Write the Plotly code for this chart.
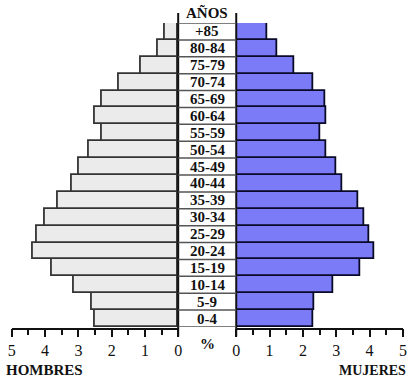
import plotly.graph_objects as go

W, H = 415, 381

age_groups = ["0-4", "5-9", "10-14", "15-19", "20-24", "25-29", "30-34", "35-39",
              "40-44", "45-49", "50-54", "55-59", "60-64", "65-69", "70-74", "75-79",
              "80-84", "+85"]
hombres = [2.50, 2.61, 3.14, 3.81, 4.36, 4.25, 4.00, 3.61, 3.21, 2.99, 2.68, 2.29,
           2.50, 2.29, 1.79, 1.11, 0.62, 0.39]
mujeres = [2.30, 2.35, 2.92, 3.72, 4.13, 4.00, 3.85, 3.66, 3.19, 2.99, 2.70, 2.51,
           2.70, 2.66, 2.30, 1.74, 1.24, 0.93]
ticks = [0, 1, 2, 3, 4, 5]

n = len(age_groups)

def px_x(p):
    return p / W

def px_y(p):
    return (H - p) / H

# layout geometry in pixels
left_x0, left_x1 = 8.0, 177.6
right_x0, right_x1 = 236.8, 406.8
top_y, bot_y = 23.0, 327.0
axis_y = 328.5

font_serif = "Liberation Serif"

fig = go.Figure()
fig.add_trace(go.Bar(
    y=age_groups, x=hombres, orientation="h", xaxis="x", yaxis="y",
    marker=dict(color="#ebebeb", line=dict(color="#333333", width=1.8)),
    showlegend=False, hoverinfo="x+y"))
fig.add_trace(go.Bar(
    y=age_groups, x=mujeres, orientation="h", xaxis="x2", yaxis="y",
    marker=dict(color="#7b7bf7", line=dict(color="#0a0a28", width=1.8)),
    showlegend=False, hoverinfo="x+y"))

axis_common = dict(
    tickvals=ticks, ticktext=[str(t) for t in ticks],
    ticks="outside", ticklen=8, tickwidth=1.5, tickcolor="#111111",
    minor=dict(ticks="outside", ticklen=6, tickwidth=1.5, tickcolor="#111111", dtick=0.5, tick0=0),
    showline=True, linecolor="#111111", linewidth=1.5,
    showgrid=False, zeroline=False, fixedrange=True,
    tickfont=dict(family=font_serif, size=16, color="#111111"),
    anchor="free", position=px_y(axis_y),
)

fig.update_layout(
    width=W, height=H, margin=dict(l=0, r=0, t=0, b=0),
    paper_bgcolor="white", plot_bgcolor="white",
    barmode="overlay", bargap=0,
    xaxis=dict(domain=[px_x(left_x0), px_x(left_x1)], range=[5, 0], **axis_common),
    xaxis2=dict(domain=[px_x(right_x0), px_x(right_x1)], range=[0, 5], **axis_common),
    yaxis=dict(domain=[px_y(bot_y), px_y(top_y)], range=[-0.5, n - 0.5],
               visible=False, fixedrange=True, type="category"),
)

shapes = []
# vertical dividers of center column
for xp in (left_x1, right_x0):
    shapes.append(dict(type="line", xref="paper", yref="paper",
                       x0=px_x(xp), x1=px_x(xp), y0=px_y(336.5), y1=px_y(13),
                       line=dict(color="#111111", width=2)))
# horizontal separators in the center column
for i in range(n + 1):
    shapes.append(dict(type="line", xref="paper", yref="y",
                       x0=px_x(left_x1), x1=px_x(right_x0), y0=i - 0.5, y1=i - 0.5,
                       line=dict(color="#555555", width=1.5)))
fig.update_layout(shapes=shapes)

center_x = px_x((left_x1 + right_x0) / 2)
annotations = []
for i, g in enumerate(age_groups):
    annotations.append(dict(text="<b>%s</b>" % g, x=center_x, y=i, xref="paper", yref="y",
                            showarrow=False, xanchor="center", yanchor="middle",
                            font=dict(family=font_serif, size=15, color="#111111")))
annotations.append(dict(text="<b>AÑOS</b>", x=center_x, y=px_y(12), xref="paper", yref="paper",
                        showarrow=False, xanchor="center", yanchor="middle",
                        font=dict(family=font_serif, size=15, color="#111111")))
annotations.append(dict(text="<b>%</b>", x=center_x, y=px_y(344), xref="paper", yref="paper",
                        showarrow=False, xanchor="center", yanchor="middle",
                        font=dict(family=font_serif, size=15, color="#111111")))
annotations.append(dict(text="<b>HOMBRES</b>", x=px_x(0), y=px_y(370), xref="paper", yref="paper",
                        showarrow=False, xanchor="left", yanchor="middle",
                        font=dict(family=font_serif, size=15, color="#111111")))
annotations.append(dict(text="<b>MUJERES</b>", x=px_x(412), y=px_y(370), xref="paper", yref="paper",
                        showarrow=False, xanchor="right", yanchor="middle",
                        font=dict(family=font_serif, size=14, color="#111111")))
fig.update_layout(annotations=annotations)

fig.update_xaxes(tickprefix="<b>", ticksuffix="</b>")

fig.write_html("out.html")
